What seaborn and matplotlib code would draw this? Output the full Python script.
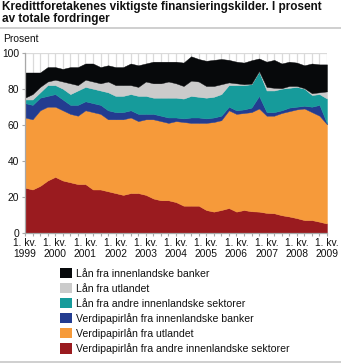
import numpy as np
import pandas as pd
import matplotlib
matplotlib.use("Agg")
import matplotlib.pyplot as plt
from matplotlib.lines import Line2D
from matplotlib.patches import Patch
from matplotlib.ticker import MultipleLocator
import seaborn as sns

# Quarterly observations, 1. kv. 1999 - 1. kv. 2009
quarters = [f"{y}K{q}" for y in range(1999, 2009) for q in range(1, 5)] + ["2009K1"]
tick_years = list(range(1999, 2010))
tick_labels = [f"1. kv.\n{y}" for y in tick_years]

# Shares of total claims (per cent), one list per funding source
vp_andre_innl = [25, 24, 26, 29, 31, 29, 28, 27, 27, 24, 24, 23, 22, 21, 22, 22, 21, 19, 18, 18,
                 17, 15, 15, 15, 12.6, 11.7, 12.6, 13.7, 11.7, 12.6, 11.9, 11.7, 11, 10.8, 9.7,
                 9, 8.1, 7, 7, 6.1, 5.1]
vp_utlandet = [39, 39, 42, 41, 39, 39, 38, 38, 41, 43, 42, 40, 41, 42, 42, 40, 42, 44, 44, 43,
               45, 46.5, 46, 46, 48.4, 49.8, 49.9, 54.3, 54.3, 53.9, 55.1, 57.3, 54, 54.2, 56.8,
               58.5, 60.4, 62, 60, 58.9, 55.1]
vp_innl_banker = [8, 8, 7, 6, 7, 6, 5, 6, 5, 5, 5, 5, 4, 4, 4, 4, 3, 3, 3, 3,
                  2, 2, 3, 3, 2.5, 2.5, 2.5, 2, 2, 2, 2.5, 7, 2, 2, 1.5,
                  2, 1.5, 1.5, 3, 6, 0.5]
laan_andre_innl = [2, 3, 3, 6, 5, 6, 6, 8, 8, 8, 8, 10, 9, 9, 9, 10, 10, 9, 10, 11,
                   11, 11, 12, 11.5, 11.5, 11.5, 12, 12, 14, 13.5, 13, 13.5, 12, 12, 12,
                   11, 11, 9.5, 6.5, 6, 13.8]
laan_utlandet = [1, 3, 3, 2, 3, 4, 6, 3, 4, 4, 4, 6, 6, 6, 5, 5, 8, 8, 8, 9,
                 8, 7, 8.5, 8.5, 6.5, 6, 5.5, 1.5, 1, 0.5, 0.3, 0.3, 2, 1.5, 0.3,
                 1, 0.5, 0.3, 1, 1, 4]
laan_innl_banker = [14, 12, 8, 8, 7, 7, 9, 10, 9, 10, 9, 9, 10, 10, 12, 12, 10, 12, 12, 11,
                    12, 13, 13.5, 12.5, 14, 14.5, 14, 12.5, 12, 12, 13, 7, 14, 15.5, 13.7,
                    13.5, 13, 12.7, 16.5, 15.5, 15]

series_names = [
    "Lån fra innenlandske banker",
    "Lån fra utlandet",
    "Lån fra andre innenlandske sektorer",
    "Verdipapirlån fra innenlandske banker",
    "Verdipapirlån fra utlandet",
    "Verdipapirlån fra andre innenlandske sektorer",
]
series_colors = ["#07090b", "#cbcbcb", "#169b9b", "#233c90", "#f69a3a", "#9a1b1f"]

df = pd.DataFrame({
    series_names[5]: vp_andre_innl,
    series_names[4]: vp_utlandet,
    series_names[3]: vp_innl_banker,
    series_names[2]: laan_andre_innl,
    series_names[1]: laan_utlandet,
    series_names[0]: laan_innl_banker,
}, index=quarters)

sns.set_theme(style="white")
plt.rcParams["font.family"] = ["Liberation Sans", "DejaVu Sans"]

W, H = 341, 363
fig = plt.figure(figsize=(W / 100, H / 100), dpi=100)
ax = fig.add_axes([25 / W, 1 - 232.7 / H, 302 / W, 180 / H])

x = np.arange(len(df))
stack_order = series_names[::-1]
polys = ax.stackplot(x, *[df[n].values for n in stack_order],
                     colors=[series_colors[series_names.index(n)] for n in stack_order],
                     linewidth=0)
for p in polys:
    p.set_edgecolor(p.get_facecolor())
    p.set_linewidth(0.3)

ax.set_xlim(0, len(df) - 1)
ax.set_ylim(0, 100)
ax.set_xticks(x[::4])
ax.set_xticklabels(tick_labels, linespacing=1.15)
ax.xaxis.set_minor_locator(MultipleLocator(1))
ax.set_yticks(range(0, 101, 20))

grid_col = "#dadada"
ax.grid(True, which="both", axis="x", color=grid_col, lw=0.9)
ax.grid(True, which="major", axis="y", color=grid_col, lw=0.9)
ax.set_axisbelow(True)

for side in ("top", "right"):
    ax.spines[side].set_visible(False)
for side in ("left", "bottom"):
    ax.spines[side].set_color("#a8a8a8")
    ax.spines[side].set_linewidth(0.9)

ax.tick_params(axis="both", which="both", length=2.5, width=0.8, color="#a8a8a8",
               labelsize=7.4, labelcolor="#111111", pad=1.5, bottom=True, left=True)
ax.tick_params(axis="x", which="minor", length=2)

fig.text(1.5 / W, 1 - 1.0 / H,
         "Kredittforetakenes viktigste finansieringskilder. I prosent\nav totale fordringer",
         fontsize=8.5, fontweight="bold", va="top", ha="left", linespacing=0.98,
         color="#111111")
fig.add_artist(Line2D([0, 1], [1 - 27.5 / H] * 2, transform=fig.transFigure,
                      color="#cccccc", lw=1.3))
fig.add_artist(Line2D([0, 1], [1 - 361.5 / H] * 2, transform=fig.transFigure,
                      color="#cccccc", lw=1.3))
fig.text(3 / W, 1 - 39 / H, "Prosent", fontsize=7.4, va="center", ha="left",
         color="#111111")

handles = [Patch(facecolor=c, edgecolor="none") for c in series_colors]
fig.legend(handles, series_names, loc="upper left",
           bbox_to_anchor=(59.5 / W, 1 - 268 / H), frameon=False,
           fontsize=7.55, handlelength=1.15, handleheight=1.15, handletextpad=0.4,
           labelspacing=0.4, borderpad=0, borderaxespad=0, labelcolor="#111111")

fig.savefig("out.png", dpi=100)
